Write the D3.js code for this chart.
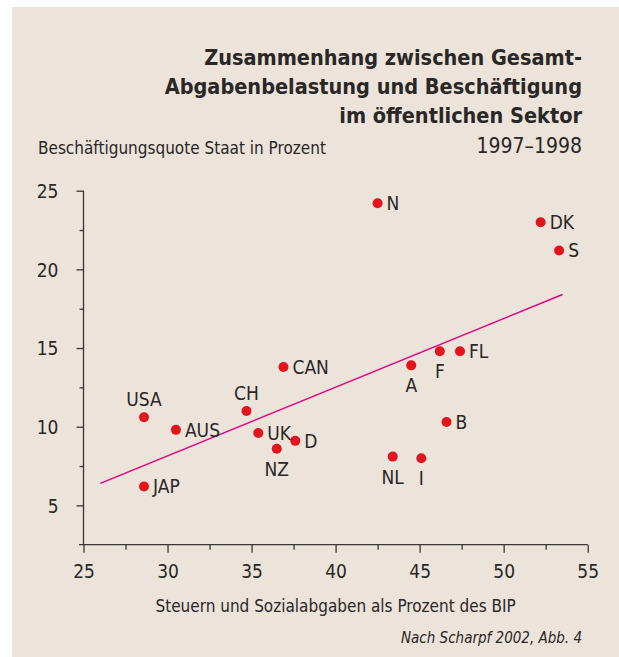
<!DOCTYPE html>
<html lang="de">
<head><meta charset="utf-8">
<title>Abgabenbelastung und Beschäftigung</title>
<style>
body {
  margin: 0;
  background: #ffffff;
}
svg text {
  font-family: "Liberation Sans Narrow", "DejaVu Sans Condensed", sans-serif;
  fill: #2a2727;
}
</style>
</head>
<body>
<svg id="chart"></svg>
<script src="https://d3js.org/d3.v7.min.js"></script>
<script>

// data (tax share of GDP vs. public employment share)
var countries = ["N", "DK", "S", "F", "FL", "A", "CAN", "B", "NL", "I",
                 "USA", "AUS", "CH", "UK", "NZ", "D", "JAP"];
var taxShare = [42.5, 52.2, 53.3, 46.2, 47.4, 44.5, 36.9, 46.6, 43.4, 45.1,
                28.6, 30.5, 34.7, 35.4, 36.5, 37.6, 28.6];
var employShare = [24.2, 23.0, 21.2, 14.8, 14.8, 13.9, 13.8, 10.3, 8.1, 8.0,
                   10.6, 9.8, 11.0, 9.6, 8.6, 9.1, 6.2];

// trend line end points
var trendX = [26.0, 53.5];
var trendY = [6.4, 18.4];

var xTicks = [25, 30, 35, 40, 45, 50, 55];
var yTicks = [5, 10, 15, 20, 25];

var width = 619, height = 657;

var svg = d3.select("#chart")
    .attr("width", width)
    .attr("height", height);

svg.append("rect")
    .attr("x", 12).attr("y", 7)
    .attr("width", width - 12).attr("height", height - 7)
    .attr("fill", "#ece3da");

var x = d3.scaleLinear().domain([25, 55]).range([83.5, 587.7]);
var y = d3.scaleLinear().domain([2.5, 25]).range([544.7, 190.7]);

// titles
var title = svg.append("text")
    .attr("text-anchor", "end")
    .attr("font-weight", "bold")
    .attr("font-size", 21.5);
["Zusammenhang zwischen Gesamt-", "Abgabenbelastung und Beschäftigung", "im öffentlichen Sektor"]
  .forEach(function(t, i) {
    title.append("tspan").attr("x", 582).attr("y", 65 + i * 29).text(t);
  });

svg.append("text")
    .attr("x", 582).attr("y", 153)
    .attr("text-anchor", "end")
    .attr("font-size", 21)
    .text("1997–1998");

svg.append("text")
    .attr("x", 38).attr("y", 154)
    .attr("font-size", 17)
    .text("Beschäftigungsquote Staat in Prozent");

// axes
var axisColor = "#3a3636";

var gx = svg.append("g").attr("transform", "translate(0," + y(2.5) + ")");
gx.call(d3.axisBottom(x).tickValues(d3.range(27.5, 55, 5)).tickSize(5).tickFormat(""));
gx.call(g => g.append("g").call(d3.axisBottom(x).tickValues(xTicks).tickSize(8).tickFormat(d3.format("d"))));
gx.selectAll(".domain").remove();
gx.append("line").attr("x1", 79).attr("x2", x(55)).attr("stroke", axisColor).attr("stroke-width", 1.3);
gx.selectAll("line").attr("stroke", axisColor).attr("stroke-width", 1.3);
gx.selectAll("text")
    .attr("font-size", 19)
    .attr("font-family", null)
    .attr("fill", "#2a2727")
    .attr("dy", null)
    .attr("y", 33);

var gy = svg.append("g").attr("transform", "translate(" + x(25) + ",0)");
gy.call(d3.axisLeft(y).tickValues(d3.range(7.5, 25, 5)).tickSize(4).tickFormat(""));
gy.call(g => g.append("g").call(d3.axisLeft(y).tickValues(yTicks).tickSize(7).tickFormat(d3.format("d"))));
gy.selectAll(".domain").remove();
gy.append("line").attr("y1", y(25)).attr("y2", y(2.5)).attr("stroke", axisColor).attr("stroke-width", 1.3);
gy.selectAll("line").attr("stroke", axisColor).attr("stroke-width", 1.3);
gy.selectAll("text")
    .attr("font-size", 19)
    .attr("font-family", null)
    .attr("fill", "#2a2727")
    .attr("x", -25)
    .attr("dy", "0.36em");

svg.append("text")
    .attr("x", x(40)).attr("y", 612)
    .attr("text-anchor", "middle")
    .attr("font-size", 17)
    .text("Steuern und Sozialabgaben als Prozent des BIP");

svg.append("text")
    .attr("x", 582).attr("y", 643)
    .attr("text-anchor", "end")
    .attr("font-size", 15)
    .attr("font-style", "italic")
    .text("Nach Scharpf 2002, Abb. 4");

// trend line
svg.append("line")
    .attr("x1", x(trendX[0])).attr("y1", y(trendY[0]))
    .attr("x2", x(trendX[1])).attr("y2", y(trendY[1]))
    .attr("stroke", "#e6007e")
    .attr("stroke-width", 1.5);

// points
var pts = countries.map(function(c, i) {
  return {name: c, tx: taxShare[i], em: employShare[i]};
});

svg.append("g").selectAll("circle")
    .data(pts)
  .enter().append("circle")
    .attr("cx", d => x(d.tx))
    .attr("cy", d => y(d.em))
    .attr("r", 5)
    .attr("fill", "#e3141e");

// where each label sits relative to its dot
var above = ["USA", "CH"];
var below = ["F", "A", "NL", "I", "NZ"];

svg.append("g").selectAll("text")
    .data(pts)
  .enter().append("text")
    .attr("font-size", 19)
    .attr("x", function(d) {
      if (above.includes(d.name) || below.includes(d.name)) return x(d.tx);
      return x(d.tx) + 9;
    })
    .attr("y", function(d) {
      if (above.includes(d.name)) return y(d.em) - 11;
      if (below.includes(d.name)) return y(d.em) + 27;
      return y(d.em) + 7;
    })
    .attr("text-anchor", function(d) {
      return (above.includes(d.name) || below.includes(d.name)) ? "middle" : "start";
    })
    .text(d => d.name);

</script>
</body>
</html>
